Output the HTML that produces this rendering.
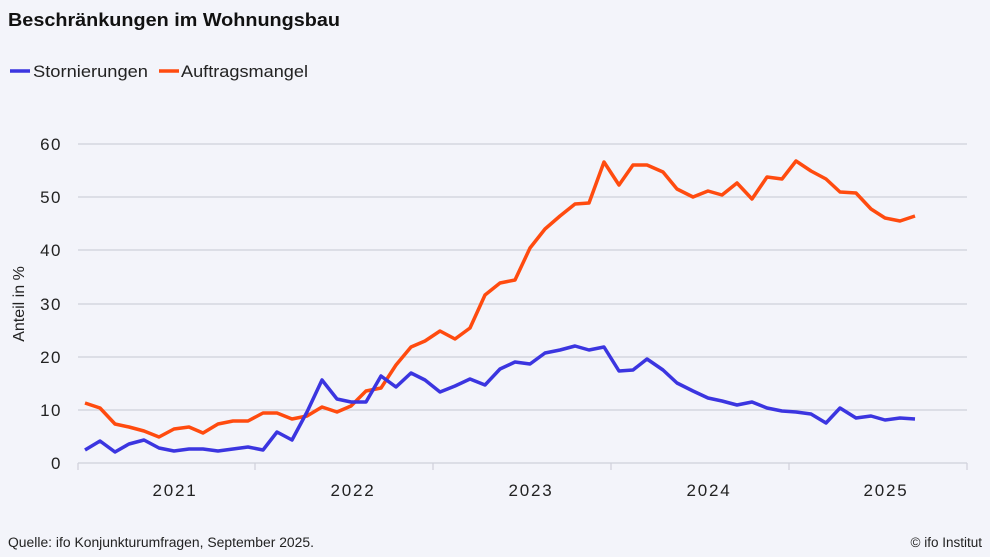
<!DOCTYPE html>
<html><head><meta charset="utf-8"><style>
html,body{margin:0;padding:0;background:#f3f4fa;}
svg{display:block;font-family:"Liberation Sans",Arial,sans-serif;}
</style></head><body>
<svg width="990" height="557" viewBox="0 0 990 557" xmlns="http://www.w3.org/2000/svg">
<rect width="990" height="557" fill="#f3f4fa"/>
<text x="8" y="26" font-size="18" font-weight="bold" fill="#111" textLength="332" lengthAdjust="spacingAndGlyphs">Beschränkungen im Wohnungsbau</text>
<line x1="10" y1="71" x2="30" y2="71" stroke="#3b35e0" stroke-width="3.5"/>
<text x="33" y="77" font-size="17" fill="#222" textLength="115" lengthAdjust="spacingAndGlyphs">Stornierungen</text>
<line x1="159" y1="71" x2="179" y2="71" stroke="#ff4b0f" stroke-width="3.5"/>
<text x="181" y="77" font-size="17" fill="#222" textLength="127" lengthAdjust="spacingAndGlyphs">Auftragsmangel</text>
<g stroke="#cfd0da" stroke-width="1.2">
<line x1="78" y1="144" x2="967" y2="144"/><line x1="78" y1="197" x2="967" y2="197"/>
<line x1="78" y1="250" x2="967" y2="250"/><line x1="78" y1="304" x2="967" y2="304"/>
<line x1="78" y1="357" x2="967" y2="357"/><line x1="78" y1="410" x2="967" y2="410"/>
<line x1="78" y1="463" x2="967" y2="463"/>
<line x1="78" y1="463" x2="78" y2="470"/><line x1="255" y1="463" x2="255" y2="470"/>
<line x1="433" y1="463" x2="433" y2="470"/><line x1="611" y1="463" x2="611" y2="470"/>
<line x1="789" y1="463" x2="789" y2="470"/><line x1="967" y1="463" x2="967" y2="470"/>
</g>
<g font-size="17" fill="#222" text-anchor="end" letter-spacing="1.5">
<text x="62" y="150">60</text><text x="62" y="203">50</text><text x="62" y="256">40</text>
<text x="62" y="310">30</text><text x="62" y="363">20</text><text x="62" y="416">10</text><text x="62" y="469">0</text>
</g>
<g font-size="17" fill="#222" text-anchor="middle" letter-spacing="1.8">
<text x="175" y="496">2021</text><text x="353" y="496">2022</text><text x="531" y="496">2023</text>
<text x="709" y="496">2024</text><text x="886" y="496">2025</text>
</g>
<text transform="translate(24,304) rotate(-90)" font-size="16" fill="#222" text-anchor="middle">Anteil in %</text>
<polyline fill="none" stroke="#ff4b0f" stroke-width="3.5" stroke-linejoin="round" points="85,403 100,408 115,424 129,427 144,431 159,437 174,429 189,427 203,433 218,424 233,421 248,421 263,413 277,413 292,419 307,416 322,407 337,412 351,406 366,391 381,388 396,365 411,347 425,341 440,331 455,339 470,328 485,295 500,283 515,280 530,248 545,229 560,216 575,204 589,203 604,162 619,185 633,165 647,165 663,172 677,189 693,197 708,191 722,195 737,183 752,199 767,177 782,179 796,161 811,171 826,179 840,192 856,193 871,209 885,218 900,221 915,216"/>
<polyline fill="none" stroke="#3b35e0" stroke-width="3.5" stroke-linejoin="round" points="85,450 100,441 115,452 129,444 144,440 159,448 174,451 189,449 203,449 218,451 233,449 248,447 263,450 277,432 292,440 307,412 322,380 337,399 351,402 366,402 381,376 396,387 411,373 425,380 440,392 455,386 470,379 485,385 500,369 515,362 530,364 545,353 560,350 575,346 589,350 604,347 619,371 633,370 647,359 663,370 677,383 693,391 708,398 722,401 737,405 752,402 767,408 782,411 796,412 811,414 826,423 840,408 856,418 871,416 885,420 900,418 915,419"/>
<text x="8" y="547" font-size="13.5" fill="#222" textLength="306" lengthAdjust="spacingAndGlyphs">Quelle: ifo Konjunkturumfragen,  September 2025.</text>
<text x="982" y="547" font-size="13.5" fill="#222" text-anchor="end">© ifo Institut</text>
</svg>
</body></html>
